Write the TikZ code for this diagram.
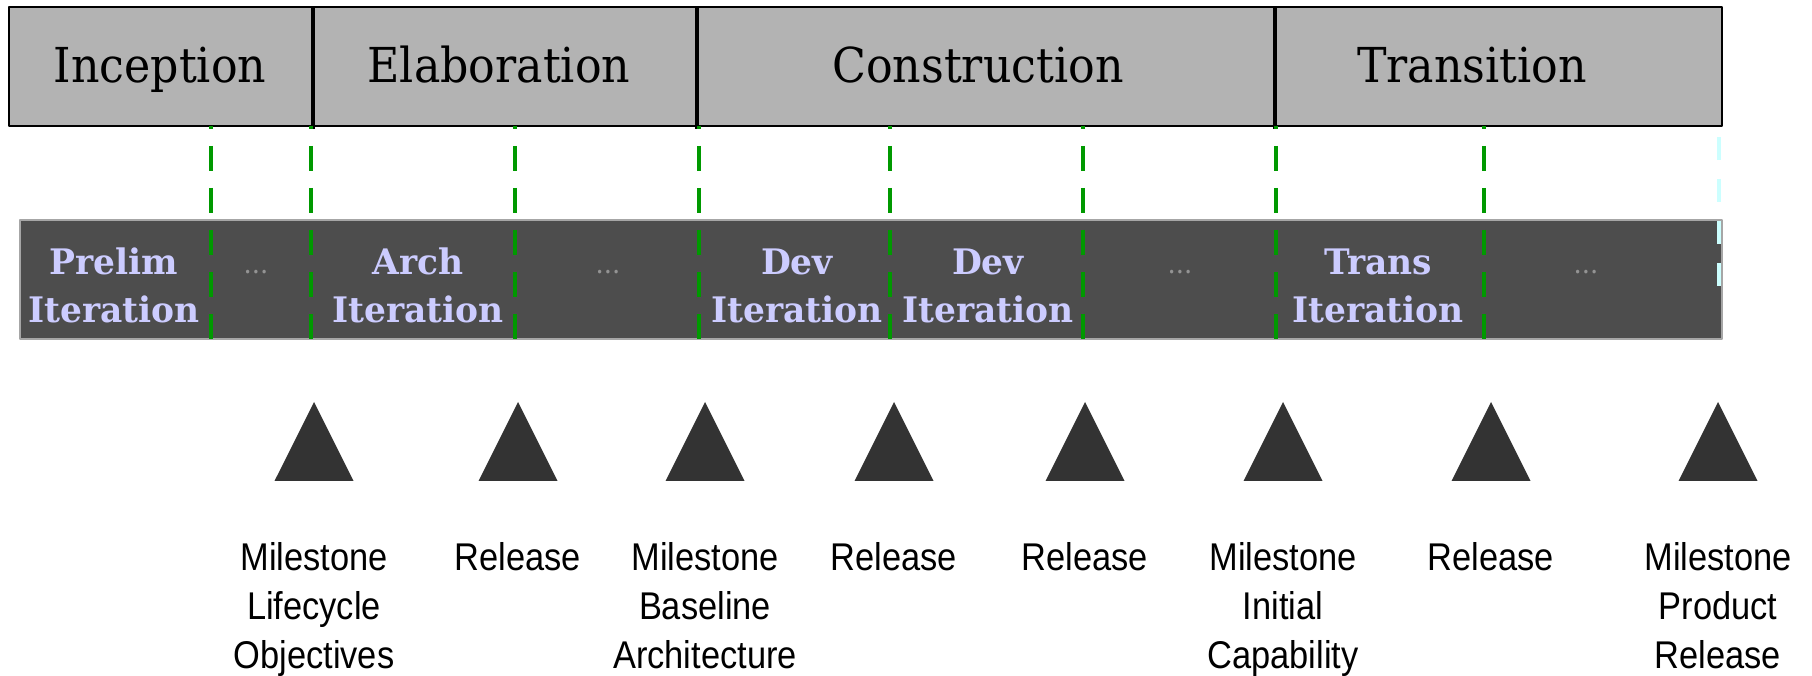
\documentclass[tikz,border=0pt]{standalone}
\usepackage{fontspec}
\setmainfont[FakeStretch=0.92]{DejaVu Serif}
\newfontfamily\iterfont[FakeStretch=0.98]{DejaVu Serif}
\newfontfamily\milefont[FakeStretch=0.89]{Liberation Sans}
\definecolor{phasegray}{HTML}{B3B3B3}
\definecolor{bandgray}{HTML}{4D4D4D}
\definecolor{iterblue}{HTML}{CCCCFF}
\definecolor{gatecolor}{HTML}{009900}
\definecolor{endcyan}{HTML}{CCFFFF}
\definecolor{stonegray}{HTML}{333333}
\begin{document}
\begin{tikzpicture}[line join=round,
	phase/.style={inner sep=0pt, anchor=base, font=\fontsize{13.7}{16}\selectfont},
	iter/.style={inner sep=0pt, anchor=base, align=center, text=iterblue, font=\iterfont\fontsize{10}{13.9}\selectfont\bfseries},
	more/.style={inner sep=0pt, anchor=base, text=gray!85, font=\fontsize{8}{9}\selectfont},
	gate/.style={gatecolor, line width=1.1pt, dash pattern=on 2.5mm off 1.7mm, dash phase=2.2mm},
	mile/.style={inner sep=0pt, anchor=north, align=center, font=\milefont\fontsize{11}{13.9}\selectfont}]
\useasboundingbox (0,0) rectangle (18.12,-6.76);
% phases
\draw[fill=phasegray, line width=.6pt] (0.09,-0.07) rectangle (17.22,-1.26);
\foreach \x in {3.13,6.97,12.75}
	\draw[line width=1pt] (\x,-0.07) -- (\x,-1.29);
\node[phase] (incep) at (1.60,-0.83) {Inception};
\node[phase] (elab) at (4.99,-0.83) {Elaboration};
\node[phase] (constr) at (9.78,-0.83) {Construction};
\node[phase] (trans) at (14.72,-0.83) {Transition};
% iterations
\draw[fill=bandgray, draw=gray!70, line width=.4pt] (0.20,-2.20) rectangle (17.22,-3.39);
\foreach \x in {2.11,3.11,5.15,6.99,8.90,10.83,12.76,14.84}
	\draw[gate] (\x,-1.26) -- (\x,-3.39);
\draw[endcyan, line width=1.4pt, dash pattern=on 2.3mm off 1.9mm] (17.19,-1.37) -- (17.19,-2.86);
\node[iter] (prelim) at (1.14,-3.23) {Prelim\\Iteration};
\node[iter] (arch) at (4.18,-3.23) {Arch\\Iteration};
\node[iter] (dev1) at (7.97,-3.23) {Dev\\Iteration};
\node[iter] (dev2) at (9.88,-3.23) {Dev\\Iteration};
\node[iter] (transit) at (13.78,-3.23) {Trans\\Iteration};
\foreach \x [count=\i] in {2.56,6.08,11.80,15.86}
	\node[more] (more\i) at (\x,-2.74) {...};
% milestones and releases
\foreach \x/\t [count=\i] in {3.14/{Milestone\\Lifecycle\\Objectives},5.18/Release,7.05/{Milestone\\Baseline\\Architecture},8.94/Release,10.85/Release,12.83/{Milestone\\Initial\\Capability},14.91/Release,17.18/{Milestone\\Product\\Release}}{
	\fill[stonegray] (\x-0.395,-4.81) -- (\x,-4.02) -- (\x+0.395,-4.81) -- cycle;
	\node[mile] (m\i) at (\x,-5.42) {\t};
}
\end{tikzpicture}
\end{document}
